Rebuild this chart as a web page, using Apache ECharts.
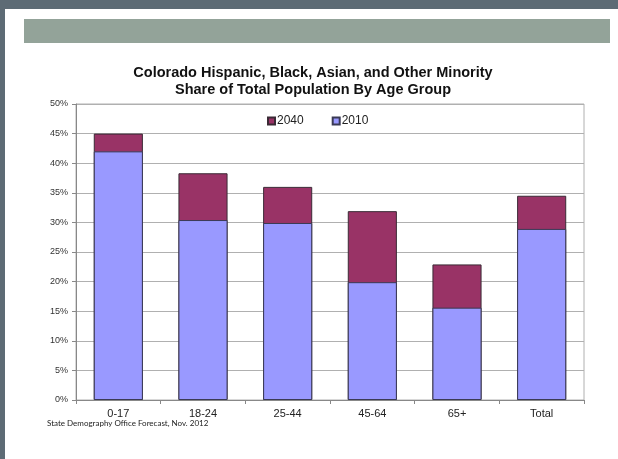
<!DOCTYPE html>
<html>
<head>
<meta charset="utf-8">
<script src="https://cdn.jsdelivr.net/npm/echarts@6/dist/echarts.min.js"></script>
<style>
    html, body { margin: 0; padding: 0; background: #fff; }
    #chart { width: 618px; height: 459px; }
</style>
</head>
<body>
<div id="chart"></div>
<script>
    // age groups and shares (percent of total population)
    var ageGroups = ['0-17', '18-24', '25-44', '45-64', '65+', 'Total'];
    var share2010 = [42.0, 30.4, 29.9, 19.9, 15.6, 28.9];
    var share2040 = [45.0, 38.3, 36.0, 31.9, 22.9, 34.5];
    var yTicks = [0, 5, 10, 15, 20, 25, 30, 35, 40, 45, 50];

    var myChart = echarts.init(document.getElementById('chart'));
    var font = '"Liberation Sans", Arial, sans-serif';

    var option = {
        backgroundColor: '#fff',
        animation: false,
        textStyle: {fontFamily: font},
        graphic: [
            // slide frame and header band
            {type: 'rect', left: 0, top: 0, shape: {width: 618, height: 9}, style: {fill: '#5d6b75'}},
            {type: 'rect', left: 0, top: 0, shape: {width: 5, height: 459}, style: {fill: '#5d6b75'}},
            {type: 'rect', left: 24, top: 19, shape: {width: 586, height: 24}, style: {fill: '#93a399'}},
            {
                type: 'text', left: 47, top: 419,
                style: {text: 'State Demography Office Forecast, Nov. 2012', font: '8px Lato, "Open Sans", sans-serif', fill: '#222'}
            }
        ],
        title: {
            text: 'Colorado Hispanic, Black, Asian, and Other Minority\nShare of Total Population By Age Group',
            left: 308,
            textAlign: 'center',
            top: 59,
            textStyle: {fontFamily: font, fontSize: 14.5, fontWeight: 'bold', color: '#111', lineHeight: 17}
        },
        legend: {
            data: ['2040', '2010'],
            top: 110,
            left: 262,
            itemWidth: 7,
            itemHeight: 7,
            itemGap: 28,
            icon: 'rect',
            textStyle: {fontFamily: font, fontSize: 12, color: '#222', padding: [0, 0, 0, -3]}
        },
        grid: {
            left: 76,
            right: 34,
            top: 104,
            bottom: 59,
            show: true,
            borderColor: '#b0b0b0',
            borderWidth: 1
        },
        xAxis: {
            type: 'category',
            data: ageGroups,
            axisLine: {lineStyle: {color: '#888'}},
            axisTick: {show: true, length: 4, lineStyle: {color: '#888'}},
            axisLabel: {fontFamily: font, fontSize: 11, color: '#222', margin: 8}
        },
        yAxis: {
            type: 'value',
            min: yTicks[0],
            max: yTicks[yTicks.length - 1],
            interval: yTicks[1] - yTicks[0],
            axisLine: {show: true, lineStyle: {color: '#888'}},
            axisTick: {show: true, length: 4, lineStyle: {color: '#888'}},
            axisLabel: {formatter: '{value}%', fontFamily: font, fontSize: 9, color: '#333', margin: 8},
            splitLine: {lineStyle: {color: '#b0b0b0', width: 1}}
        },
        series: [
            {
                name: '2040',
                type: 'bar',
                data: share2040,
                barCategoryGap: '42%',
                barGap: '-100%',
                itemStyle: {color: '#993366', borderColor: '#3a2a35', borderWidth: 1}
            },
            {
                name: '2010',
                type: 'bar',
                data: share2010,
                barCategoryGap: '42%',
                barGap: '-100%',
                itemStyle: {color: '#9999ff', borderColor: '#3a3a55', borderWidth: 1}
            }
        ]
    };

    option && myChart.setOption(option);
</script>
</body>
</html>
